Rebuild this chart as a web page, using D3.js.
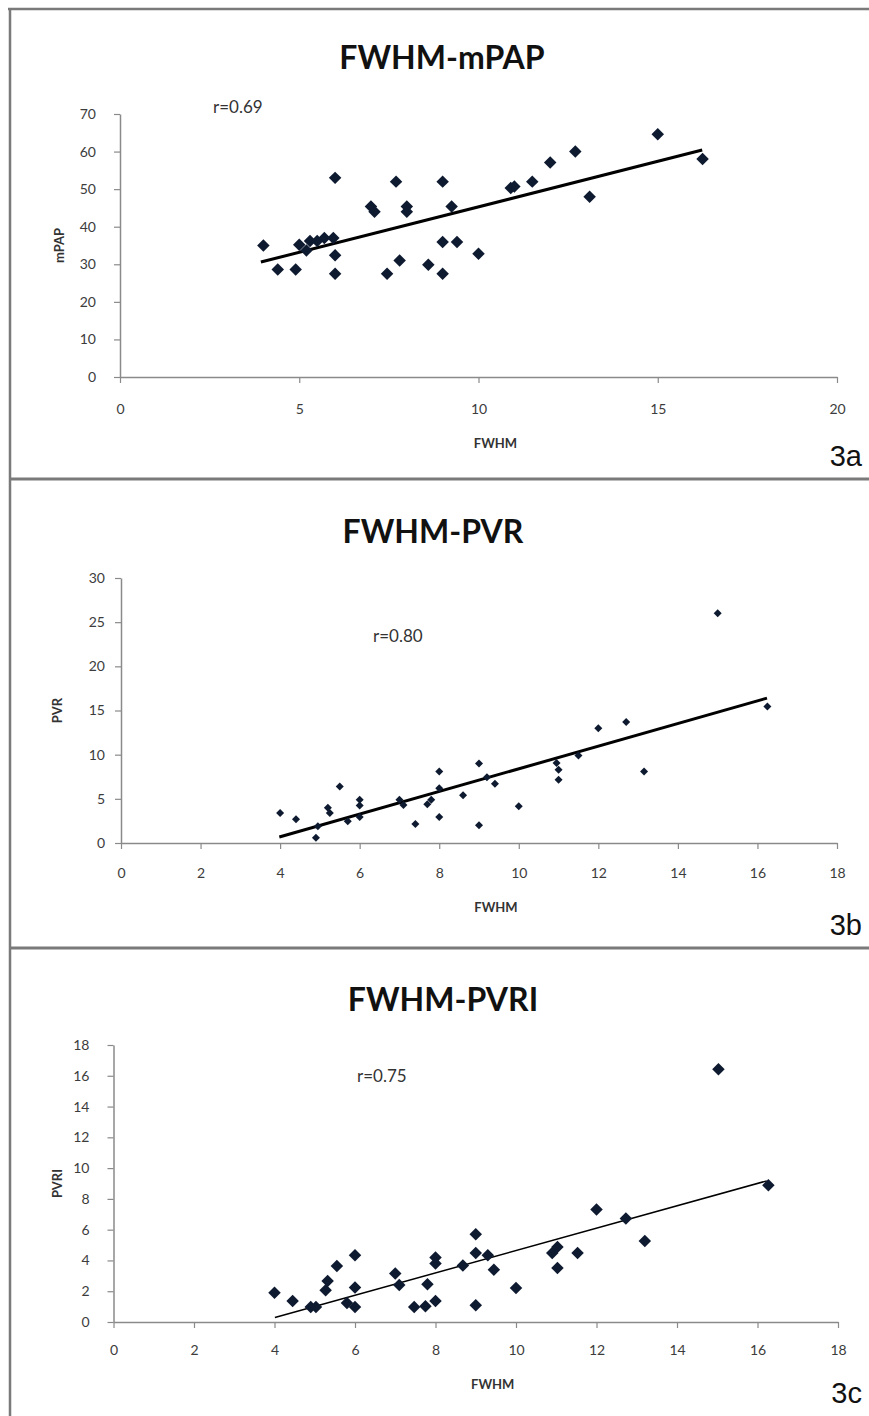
<!DOCTYPE html>
<html>
<head>
<meta charset="utf-8">
<script src="https://cdn.jsdelivr.net/npm/d3@7"></script>
<style>
  body { margin: 0; background: #fff; }
  svg text { font-family: Lato, "Open Sans", sans-serif; }
</style>
</head>
<body>
<script>
// Fig 3a: FWHM vs mPAP
const fwhmA = [4.0, 4.4, 4.9, 5.0, 5.2, 5.3, 5.5, 5.7, 5.95, 6.0, 6.0, 6.0, 7.0, 7.1, 7.45, 7.7, 7.8, 8.0, 8.0, 8.6, 9.0, 9.0, 9.0, 9.25, 9.4, 10.0, 10.9, 11.0, 11.5, 12.0, 12.7, 13.1, 15.0, 16.25];
const mpap = [35, 28.6, 28.6, 35.2, 33.7, 36.2, 36.2, 37, 37, 53, 32.4, 27.5, 45.4, 44, 27.5, 52, 31, 45.4, 44, 29.9, 52, 35.9, 27.5, 45.4, 35.9, 32.8, 50.3, 50.7, 52, 57.1, 60, 48, 64.6, 58];
const trendAx = [3.93, 16.24];
const trendAy = [30.6, 60.4];

// Fig 3b: FWHM vs PVR
const fwhmB = [4.0, 4.4, 4.9, 4.95, 5.2, 5.25, 5.5, 5.7, 6.0, 6.0, 6.0, 7.0, 7.1, 7.4, 7.7, 7.8, 8.0, 8.0, 8.0, 8.6, 9.0, 9.0, 9.2, 9.4, 10.0, 10.95, 11.0, 11.0, 11.5, 12.0, 12.7, 13.15, 15.0, 16.25];
const pvr = [3.4, 2.7, 0.6, 1.9, 4.0, 3.4, 6.4, 2.45, 4.9, 4.25, 2.95, 4.9, 4.3, 2.15, 4.4, 4.9, 8.1, 6.2, 2.95, 5.4, 9.0, 2.0, 7.45, 6.7, 4.15, 9.05, 8.3, 7.15, 9.9, 13.0, 13.7, 8.1, 26.0, 15.45];
const trendBx = [3.98, 16.24];
const trendBy = [0.68, 16.4];

// Fig 3c: FWHM vs PVRI
const fwhmC = [4.0, 4.45, 4.9, 5.03, 5.27, 5.32, 5.55, 5.8, 6.0, 6.0, 6.0, 7.0, 7.1, 7.47, 7.75, 7.8, 8.0, 8.0, 8.0, 8.68, 9.0, 9.0, 9.0, 9.3, 9.45, 10.0, 10.9, 11.03, 11.03, 11.53, 12.0, 12.73, 13.2, 15.03, 16.27];
const pvri = [1.9, 1.37, 0.98, 0.98, 2.06, 2.67, 3.64, 1.24, 4.34, 2.24, 0.98, 3.15, 2.4, 0.98, 1.02, 2.45, 1.37, 4.19, 3.8, 3.67, 5.7, 4.49, 1.09, 4.34, 3.4, 2.21, 4.49, 4.88, 3.51, 4.49, 7.31, 6.73, 5.27, 16.42, 8.89];
const trendCx = [4.01, 16.23];
const trendCy = [0.29, 9.17];

const ticksAx = [0, 5, 10, 15, 20];
const ticksAy = [0, 10, 20, 30, 40, 50, 60, 70];
const ticks18 = [0, 2, 4, 6, 8, 10, 12, 14, 16, 18];
const ticksBy = [0, 5, 10, 15, 20, 25, 30];

const W = 869, H = 1416;
const svg = d3.select("body").append("svg")
  .attr("width", W)
  .attr("height", H);

// frame and separators
svg.append("line").attr("x1", 8).attr("y1", 9).attr("x2", W).attr("y2", 9)
  .style("stroke", "#7a7a7a").style("stroke-width", 2.5);
svg.append("line").attr("x1", 10).attr("y1", 8).attr("x2", 10).attr("y2", H)
  .style("stroke", "#7a7a7a").style("stroke-width", 2.5);
[479, 948].forEach(y => {
  svg.append("line").attr("x1", 10).attr("y1", y).attr("x2", W).attr("y2", y)
    .style("stroke", "#7a7a7a").style("stroke-width", 3);
});

function drawPanel(p) {
  const x = d3.scaleLinear().domain(p.xDomain).range([p.left, p.right]);
  const y = d3.scaleLinear().domain(p.yDomain).range([p.bottom, p.top]);
  const g = svg.append("g");

  g.append("text")
    .attr("x", p.titleX).attr("y", p.titleY)
    .attr("text-anchor", "middle")
    .style("font-size", "32px").style("font-weight", "bold").style("fill", "#111")
    .text(p.title);

  const xAxis = g.append("g")
    .attr("transform", `translate(0,${p.bottom})`)
    .call(d3.axisBottom(x).tickValues(p.xTicks).tickSize(6).tickSizeOuter(0).tickPadding(p.xPad));
  const yAxis = g.append("g")
    .attr("transform", `translate(${p.left},0)`)
    .call(d3.axisLeft(y).tickValues(p.yTicks).tickSize(6).tickSizeOuter(0).tickPadding(p.yPad));
  [xAxis, yAxis].forEach(a => {
    a.select(".domain").style("stroke", "#8a8a8a").style("stroke-width", 1.5);
    a.selectAll(".tick line").style("stroke", "#8a8a8a").style("stroke-width", 1.2);
    a.selectAll(".tick text")
      .style("font-family", "Lato, sans-serif").style("font-size", "14px").style("fill", "#3c3c3c");
  });

  g.append("text")
    .attr("x", (p.left + p.right) / 2 + 17).attr("y", p.bottom + p.xLabelDy)
    .attr("text-anchor", "middle")
    .style("font-size", "13px").style("font-weight", "bold").style("fill", "#333")
    .text("FWHM");
  g.append("text")
    .attr("transform", `translate(${p.yLabelX},${(p.top + p.bottom) / 2}) rotate(-90)`)
    .attr("text-anchor", "middle")
    .style("font-size", "13px").style("font-weight", "bold").style("fill", "#333")
    .text(p.yLabel);

  g.append("text")
    .attr("x", p.rX).attr("y", p.rY)
    .style("font-size", "17px").style("fill", "#333")
    .text(p.rText);

  g.append("line")
    .attr("x1", x(p.trendX[0])).attr("y1", y(p.trendY[0]))
    .attr("x2", x(p.trendX[1])).attr("y2", y(p.trendY[1]))
    .style("stroke", "#000").style("stroke-width", p.lineW);

  const sym = d3.symbol(d3.symbolSquare, p.markSize);
  g.selectAll("path.pt")
    .data(d3.range(p.xs.length))
    .join("path")
    .attr("class", "pt")
    .attr("d", sym)
    .attr("transform", i => `translate(${x(p.xs[i])},${y(p.ys[i])}) rotate(45)`)
    .style("fill", "#0e1a30");

  g.append("text")
    .attr("x", 862).attr("y", p.tagY)
    .attr("text-anchor", "end")
    .style("font-family", "'Liberation Sans', Arial, sans-serif")
    .style("font-size", "29px").style("fill", "#111")
    .text(p.tag);
}

drawPanel({
  title: "FWHM-mPAP", titleX: 442, titleY: 69,
  xs: fwhmA, ys: mpap, trendX: trendAx, trendY: trendAy,
  xDomain: [0, 20], yDomain: [0, 70], xTicks: ticksAx, yTicks: ticksAy,
  left: 120, right: 837, top: 114, bottom: 377, xPad: 21, yPad: 18,
  xLabelDy: 71, yLabelX: 64, yLabel: "mPAP",
  rText: "r=0.69", rX: 213, rY: 113, lineW: 3, markSize: 78,
  tag: "3a", tagY: 466
});

drawPanel({
  title: "FWHM-PVR", titleX: 433, titleY: 543,
  xs: fwhmB, ys: pvr, trendX: trendBx, trendY: trendBy,
  xDomain: [0, 18], yDomain: [0, 30], xTicks: ticks18, yTicks: ticksBy,
  left: 121, right: 837, top: 578, bottom: 843, xPad: 19, yPad: 10,
  xLabelDy: 69, yLabelX: 62, yLabel: "PVR",
  rText: "r=0.80", rX: 373, rY: 642, lineW: 3, markSize: 32,
  tag: "3b", tagY: 935
});

drawPanel({
  title: "FWHM-PVRI", titleX: 443, titleY: 1011,
  xs: fwhmC, ys: pvri, trendX: trendCx, trendY: trendCy,
  xDomain: [0, 18], yDomain: [0, 18], xTicks: ticks18, yTicks: ticks18,
  left: 113.5, right: 838, top: 1045, bottom: 1322, xPad: 17, yPad: 18,
  xLabelDy: 67, yLabelX: 62, yLabel: "PVRI",
  rText: "r=0.75", rX: 357, rY: 1082, lineW: 1.5, markSize: 78,
  tag: "3c", tagY: 1403
});
</script>
</body>
</html>
